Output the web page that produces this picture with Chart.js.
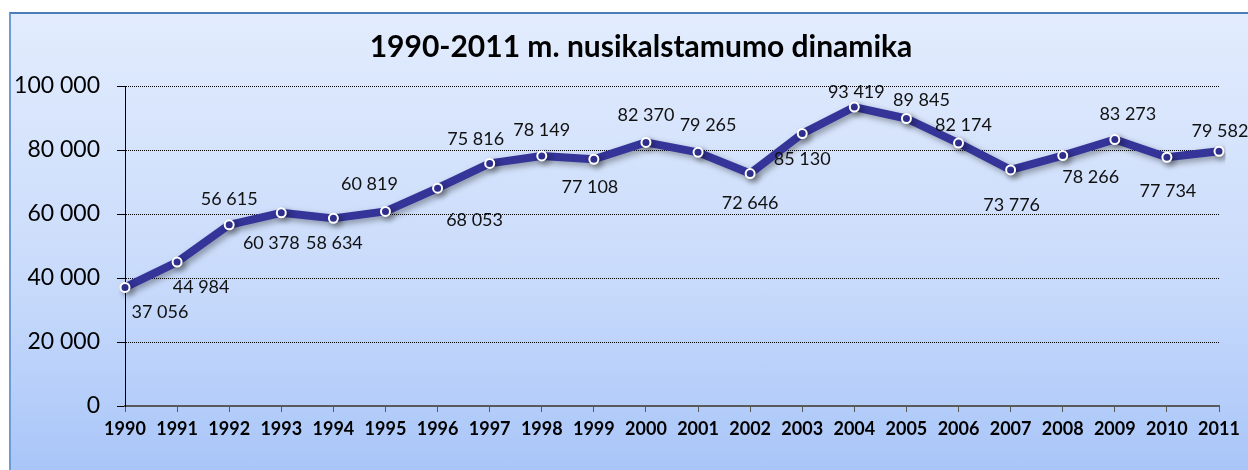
<!DOCTYPE html>
<html lang="lt">
<head>
    <meta charset="UTF-8">
    <title>1990-2011 m. nusikalstamumo dinamika</title>
    <script src="https://cdn.jsdelivr.net/npm/chart.js"></script>
    <style>
        body {
            margin: 0;
            width: 1248px;
            height: 470px;
            overflow: hidden;
            background: #fff;
            position: relative;
        }

        .frame {
            position: absolute;
            left: 9px;
            top: 12px;
            width: 1270px;
            height: 480px;
            border-top: 2px solid #4a7ebb;
            border-left: 2px solid #6f9bd5;
            background: linear-gradient(to bottom, #e2ecfd 0%, #c9dbfb 55%, #a5c3f8 100%);
        }

        #chart {
            position: absolute;
            left: 0;
            top: 0;
        }
    </style>
</head>

<body>
    <div class="frame"></div>
    <canvas id="chart" width="1248" height="470"></canvas>

    <script>
        const years = ['1990', '1991', '1992', '1993', '1994', '1995', '1996', '1997', '1998', '1999', '2000',
            '2001', '2002', '2003', '2004', '2005', '2006', '2007', '2008', '2009', '2010', '2011'];
        const crimes = [37056, 44984, 56615, 60378, 58634, 60819, 68053, 75816, 78149, 77108, 82370,
            79265, 72646, 85130, 93419, 89845, 82174, 73776, 78266, 83273, 77734, 79582];
        const yTicks = [0, 20000, 40000, 60000, 80000, 100000];

        const fmt = v => String(v).replace(/\B(?=(\d{3})+(?!\d))/g, ' ');

        // where each value label sits relative to its point (dx, dy)
        const labelOffsets = [[35, 25], [24, 25], [0, -26], [-10, 30], [1, 25], [-16, -27], [37, 32], [-14, -24],
        [0, -26], [-4, 28], [0, -27], [10, -27], [0, 30], [0, 26], [2, -15], [15, -18], [5, -18], [1, 35],
        [28, 22], [13, -25], [1, 34], [1, -20]];

        const titlePlugin = {
            id: 'titleText',
            afterDraw(chart) {
                const ctx = chart.ctx;
                ctx.save();
                ctx.font = 'bold 30px Lato';
                ctx.fillStyle = '#000';
                ctx.textAlign = 'center';
                ctx.textBaseline = 'middle';
                ctx.fillText('1990-2011 m. nusikalstamumo dinamika', 641, 47);
                ctx.restore();
            }
        };

        const shadowPlugin = {
            id: 'lineShadow',
            beforeDatasetDraw(chart) {
                const ctx = chart.ctx;
                ctx.save();
                ctx.shadowColor = 'rgba(0,0,0,0.35)';
                ctx.shadowBlur = 6;
                ctx.shadowOffsetX = 3;
                ctx.shadowOffsetY = 3;
            },
            afterDatasetDraw(chart) {
                chart.ctx.restore();
            }
        };

        const valueLabels = {
            id: 'valueLabels',
            afterDatasetsDraw(chart) {
                const ctx = chart.ctx;
                const meta = chart.getDatasetMeta(0);
                ctx.save();
                ctx.font = '18px Lato';
                ctx.fillStyle = '#111';
                ctx.textAlign = 'center';
                ctx.textBaseline = 'middle';
                meta.data.forEach((pt, i) => {
                    const o = labelOffsets[i];
                    ctx.fillText(fmt(crimes[i]), pt.x + o[0], pt.y + o[1]);
                });
                ctx.restore();
            }
        };

        new Chart(document.getElementById('chart'), {
            type: 'line',
            data: {
                labels: years,
                datasets: [{
                    data: crimes,
                    borderColor: '#343499',
                    borderWidth: 8,
                    borderJoinStyle: 'round',
                    pointRadius: 4.5,
                    pointBackgroundColor: '#343499',
                    pointBorderColor: '#fff',
                    pointBorderWidth: 2,
                    tension: 0
                }]
            },
            options: {
                responsive: false,
                animation: false,
                layout: { padding: { top: 86, right: 29, bottom: 24, left: 0 } },
                plugins: {
                    legend: { display: false },
                    title: { display: false },
                    tooltip: { enabled: false }
                },
                scales: {
                    x: {
                        offset: false,
                        afterFit: s => { s.height = 40; },
                        grid: {
                            drawOnChartArea: false,
                            drawTicks: true,
                            tickLength: 6,
                            tickColor: '#595959',
                            tickWidth: 1
                        },
                        border: { color: '#595959', width: 2 },
                        ticks: {
                            padding: 6,
                            maxRotation: 0,
                            autoSkip: false,
                            color: '#000',
                            font: { family: 'Lato', size: 18, weight: 'bold' }
                        }
                    },
                    y: {
                        min: 0,
                        max: 100000,
                        afterFit: s => { s.width = 125; },
                        afterBuildTicks: s => { s.ticks = yTicks.map(v => ({ value: v })); },
                        grid: {
                            color: '#000',
                            lineWidth: 1,
                            tickLength: 8,
                            tickColor: '#000',
                            tickBorderDash: []
                        },
                        border: { color: '#000', width: 1, dash: [1, 1] },
                        ticks: {
                            padding: 17,
                            color: '#000',
                            font: { family: 'Lato', size: 23 },
                            callback: v => fmt(v)
                        }
                    }
                }
            },
            plugins: [shadowPlugin, valueLabels, titlePlugin]
        });
    </script>
</body>

</html>
